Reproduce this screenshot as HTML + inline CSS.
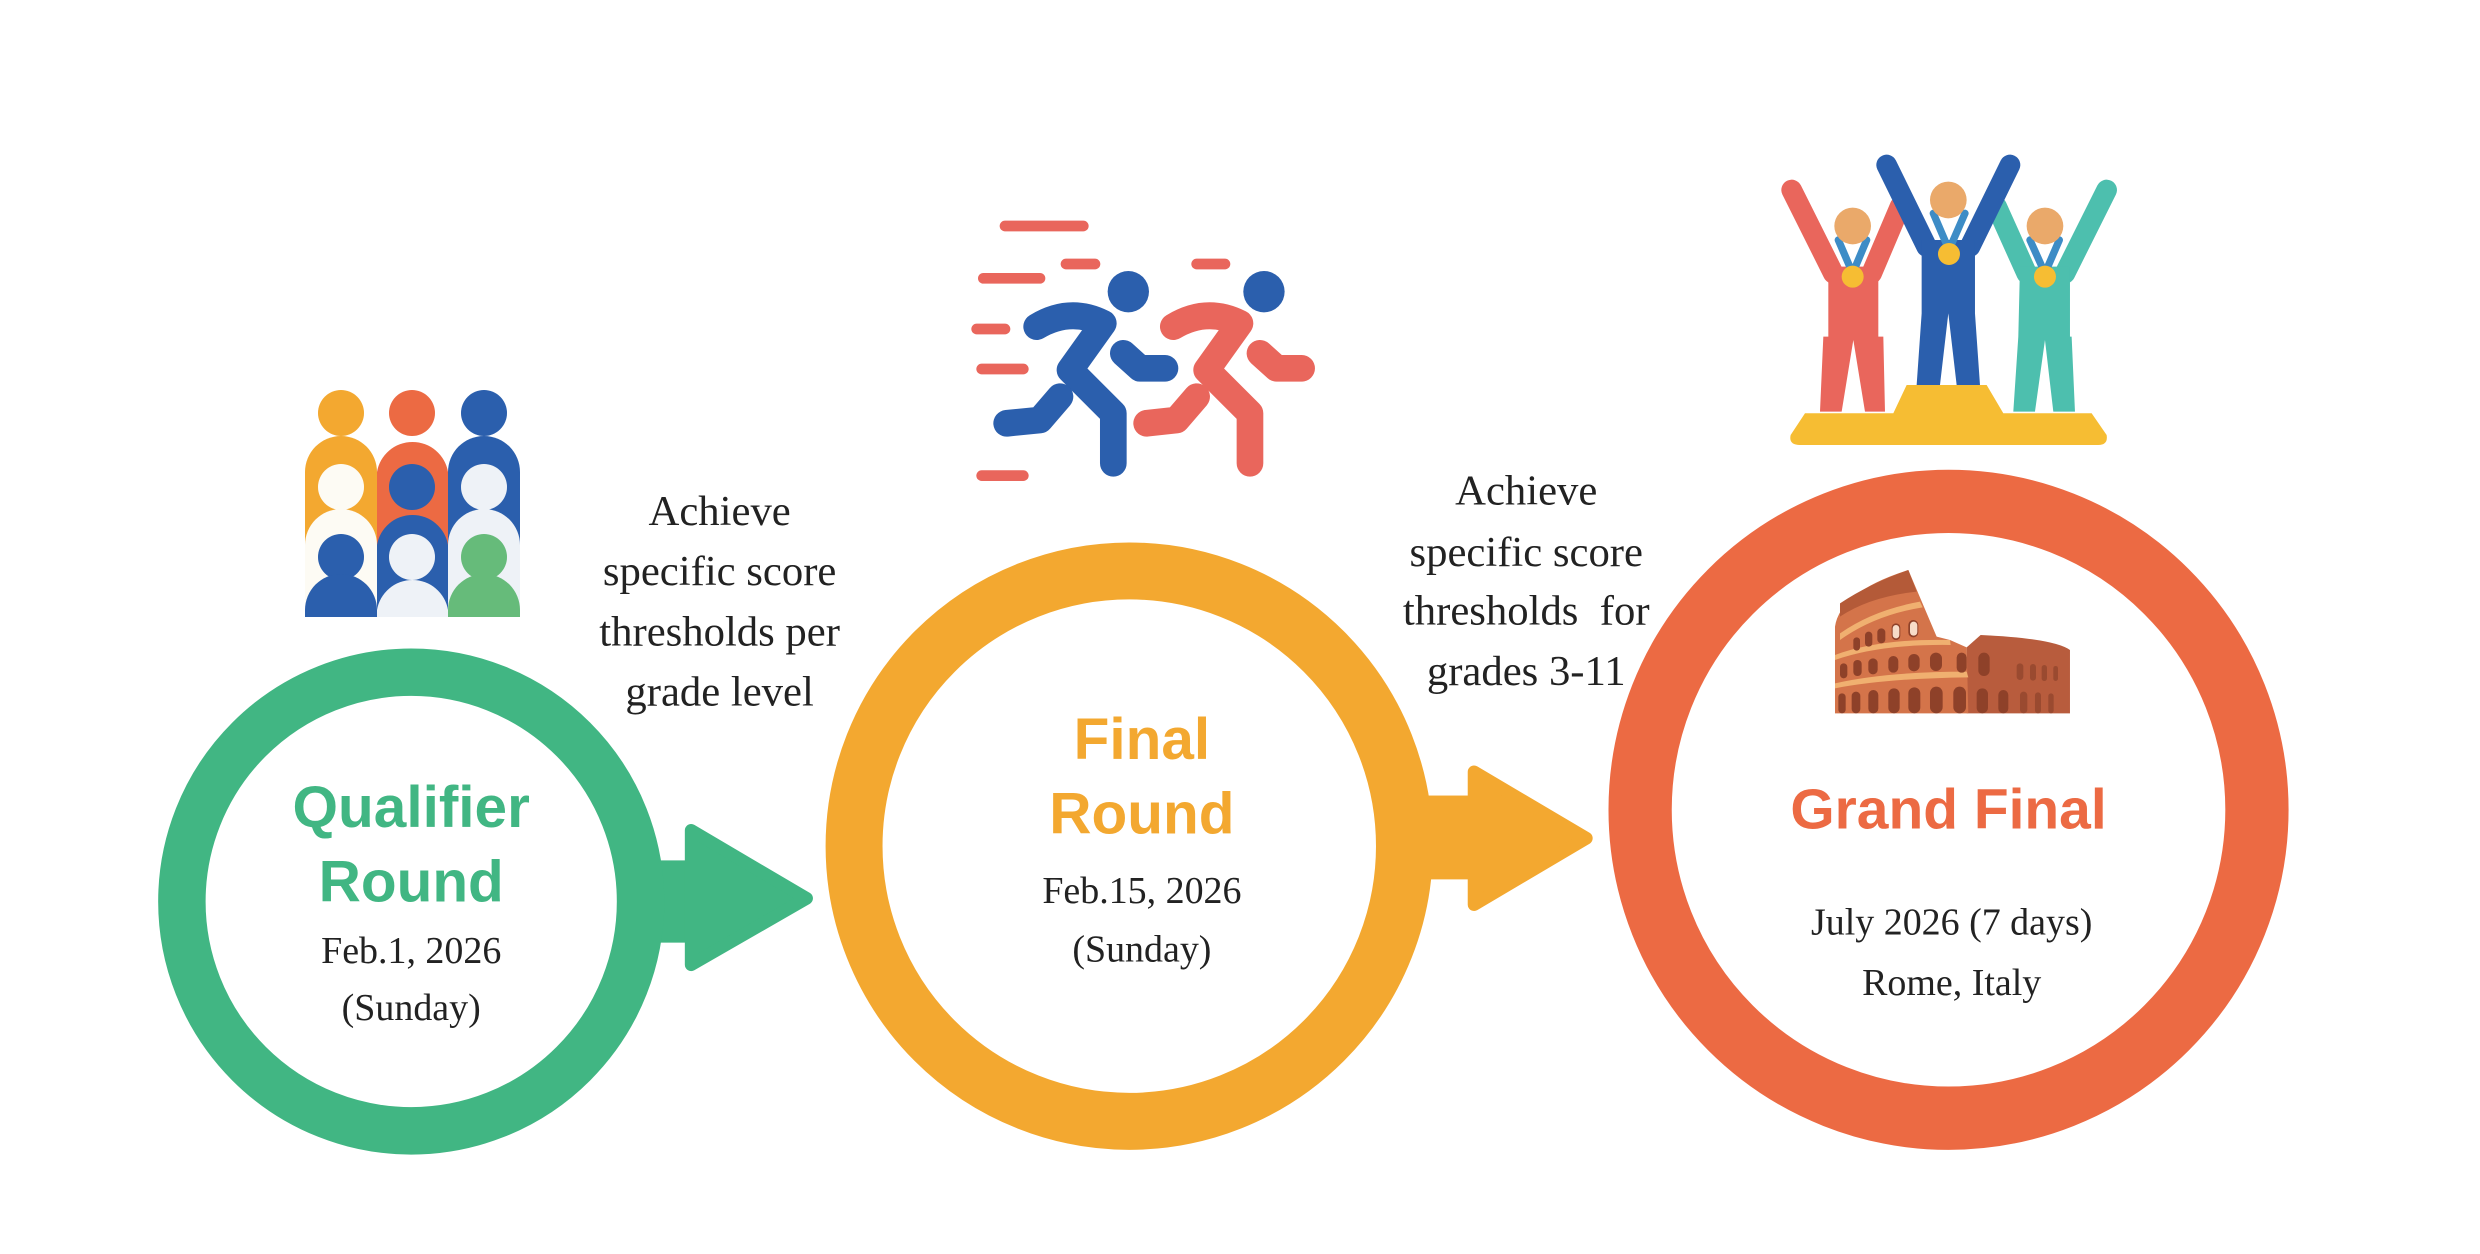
<!DOCTYPE html>
<html><head><meta charset="utf-8"><style>
html,body{margin:0;padding:0;background:#fff;}
svg{display:block;}
.t{font-family:"Liberation Sans",sans-serif;font-weight:bold;text-anchor:middle;}
.s{font-family:"Liberation Serif",serif;text-anchor:middle;fill:#222;}
</style></head><body>
<svg width="2480" height="1254" viewBox="0 0 2480 1254" xmlns="http://www.w3.org/2000/svg">
<rect width="2480" height="1254" fill="#fff"/>
<g transform="scale(1.5816)">
  <!-- arrows -->
  <rect x="410" y="544" width="35" height="52" fill="#41b683"/>
  <path d="M437,525 L510,568 L437,610 Z" fill="#41b683" stroke="#41b683" stroke-width="8" stroke-linejoin="round"/>
  <rect x="895" y="503" width="45" height="53" fill="#f3a830"/>
  <path d="M932,488 L1003,530 L932,572 Z" fill="#f3a830" stroke="#f3a830" stroke-width="8" stroke-linejoin="round"/>
  <!-- circles -->
  <circle cx="260" cy="570" r="145" fill="#fff" stroke="#41b683" stroke-width="30"/>
  <circle cx="714" cy="535" r="174" fill="#fff" stroke="#f3a830" stroke-width="36"/>
  <circle cx="1232" cy="512" r="195" fill="#fff" stroke="#ec6a43" stroke-width="40"/>
  <!-- texts -->
  <text class="t" x="260" y="523" font-size="37" fill="#41b683">Qualifier</text>
  <text class="t" x="260" y="570" font-size="37" fill="#41b683">Round</text>
  <text class="s" x="260" y="609" font-size="24">Feb.1, 2026</text>
  <text class="s" x="260" y="645" font-size="24">(Sunday)</text>
  <text class="t" x="722" y="480" font-size="37" fill="#f3a830">Final</text>
  <text class="t" x="722" y="527" font-size="37" fill="#f3a830">Round</text>
  <text class="s" x="722" y="571" font-size="24">Feb.15, 2026</text>
  <text class="s" x="722" y="608" font-size="24">(Sunday)</text>
  <text class="t" x="1232" y="524" font-size="36" fill="#ec6a43">Grand Final</text>
  <text class="s" x="1234" y="591" font-size="24">July 2026 (7 days)</text>
  <text class="s" x="1234" y="629" font-size="24">Rome, Italy</text>
  <text class="s" x="455" y="332" font-size="27">Achieve</text>
  <text class="s" x="455" y="370" font-size="27">specific score</text>
  <text class="s" x="455" y="408" font-size="27">thresholds per</text>
  <text class="s" x="455" y="446" font-size="27">grade level</text>
  <text class="s" x="965" y="319" font-size="27">Achieve</text>
  <text class="s" x="965" y="358" font-size="27">specific score</text>
  <text class="s" x="965" y="395" font-size="27" xml:space="preserve">thresholds  for</text>
  <text class="s" x="965" y="433" font-size="27">grades 3-11</text>
</g>
<!-- people grid (full coords) -->
<g>
  <circle cx="341" cy="413" r="23" fill="#f3a830"/><path d="M305,617 V472 a36,36 0 0 1 72,0 V617Z" fill="#f3a830"/>
  <circle cx="412" cy="413" r="23" fill="#ec6a43"/><path d="M377,617 V472 a36,36 0 0 1 71,0 V617Z" fill="#ec6a43"/>
  <circle cx="484" cy="413" r="23" fill="#2b5fad"/><path d="M448,617 V472 a36,36 0 0 1 72,0 V617Z" fill="#2b5fad"/>
  <circle cx="341" cy="487" r="23" fill="#fdfbf4"/><path d="M305,617 V545 a36,36 0 0 1 72,0 V617Z" fill="#fdfbf4"/>
  <circle cx="412" cy="487" r="23" fill="#2b5fad"/><path d="M377,617 V545 a36,36 0 0 1 71,0 V617Z" fill="#2b5fad"/>
  <circle cx="484" cy="487" r="23" fill="#eef2f7"/><path d="M448,617 V545 a36,36 0 0 1 72,0 V617Z" fill="#eef2f7"/>
  <circle cx="341" cy="557" r="23" fill="#2b5fad"/><path d="M305,617 V610 a36,36 0 0 1 72,0 V617Z" fill="#2b5fad"/>
  <circle cx="412" cy="557" r="23" fill="#eef2f7"/><path d="M377,617 V610 a36,36 0 0 1 71,0 V617Z" fill="#eef2f7"/>
  <circle cx="484" cy="557" r="23" fill="#66bb7a"/><path d="M448,617 V610 a36,36 0 0 1 72,0 V617Z" fill="#66bb7a"/>
</g>
<!-- runners -->
<g transform="translate(960,200) scale(0.3333)" stroke-linecap="round" stroke-linejoin="round" fill="none">
  <g stroke="#e9665c" stroke-width="32">
    <line x1="135" y1="78" x2="370" y2="78"/><line x1="318" y1="192" x2="405" y2="192"/>
    <line x1="70" y1="235" x2="240" y2="235"/><line x1="50" y1="387" x2="135" y2="387"/>
    <line x1="65" y1="507" x2="190" y2="507"/><line x1="65" y1="827" x2="190" y2="827"/>
    <line x1="710" y1="192" x2="795" y2="192"/>
  </g>
  <g stroke="#2b5fad" stroke-width="80">
    <path d="M230,380 Q330,320 430,370 L330,510 L460,640 L460,790"/>
    <path d="M490,460 L540,505 L615,505"/>
    <path d="M300,590 L240,660 L140,670"/>
  </g>
  <circle cx="505" cy="275" r="62" fill="#2b5fad"/>
  <g stroke="#e9665c" stroke-width="80">
    <path d="M640,380 Q740,320 840,370 L740,510 L870,640 L870,790"/>
    <path d="M900,460 L950,505 L1025,505"/>
    <path d="M710,590 L650,660 L560,670"/>
  </g>
  <circle cx="912" cy="275" r="62" fill="#2b5fad"/>
</g>
<!-- podium -->
<g transform="translate(1770,140) scale(0.3333)" stroke-linecap="round">
  <g stroke-width="62">
    <path d="M65,150 L190,400 M390,200 L305,400" stroke="#e9665c"/>
    <path d="M1010,150 L885,400 M680,200 L770,400" stroke="#4dbfae"/>
    <path d="M350,75 L470,320 M720,75 L600,320" stroke="#2b5fad"/>
  </g>
  <path d="M175,380 H325 V590 H340 L345,815 H285 L250,600 L215,815 H150 L160,590 H175Z" fill="#e9665c"/>
  <path d="M750,380 H900 V590 H905 L915,815 H850 L825,600 L795,815 H730 L745,590Z" fill="#4dbfae"/>
  <path d="M455,300 H615 V520 L630,735 H560 L535,520 L510,735 H440 L455,520Z" fill="#2b5fad"/>
  <g stroke="#3d8cc6" stroke-width="22" fill="none">
    <path d="M205,300 L248,400 L290,300"/><path d="M490,220 L537,330 L585,220"/><path d="M780,300 L825,400 L868,300"/>
  </g>
  <circle cx="248" cy="410" r="33" fill="#f6bd33"/><circle cx="537" cy="342" r="33" fill="#f6bd33"/><circle cx="825" cy="410" r="33" fill="#f6bd33"/>
  <circle cx="248" cy="258" r="55" fill="#eaa96a"/><circle cx="535" cy="180" r="55" fill="#eaa96a"/><circle cx="825" cy="258" r="55" fill="#eaa96a"/>
  <path d="M410,735 H650 L700,820 H965 L1010,885 Q1015,915 985,915 H90 Q55,915 62,885 L105,820 H370Z" fill="#f6bd33"/>
</g>
<!-- colosseum -->
<g transform="translate(1820,560) scale(0.3333)">
  <path d="M440,460 V262 L482,225 Q700,235 750,270 V460Z" fill="#b85c3d"/>
  <path d="M45,460 V200 Q60,95 265,30 L350,230 L390,240 L440,262 L445,460Z" fill="#d4744a"/>
  <path d="M60,130 Q150,70 265,30 L290,95 Q150,110 60,170Z" fill="#b45a38"/>
  <g fill="#f0b070">
    <path d="M60,220 Q160,150 300,125 L308,142 Q165,165 60,240Z"/>
    <path d="M45,285 Q180,235 390,240 L392,255 Q180,252 45,300Z"/>
    <path d="M45,370 Q200,335 440,335 L445,352 Q200,355 45,385Z"/>
  </g>
  <g fill="#8e4129">
    <rect x="100" y="232" width="20" height="40" rx="10"/><rect x="135" y="215" width="22" height="45" rx="11"/><rect x="172" y="205" width="24" height="45" rx="12"/><rect x="215" y="190" width="26" height="50" rx="13"/><rect x="265" y="180" width="30" height="52" rx="15"/>
    <rect x="60" y="310" width="22" height="45" rx="11"/><rect x="100" y="300" width="25" height="48" rx="12"/><rect x="145" y="295" width="28" height="48" rx="14"/><rect x="205" y="288" width="30" height="50" rx="15"/><rect x="265" y="282" width="34" height="52" rx="17"/><rect x="330" y="278" width="36" height="55" rx="18"/><rect x="410" y="278" width="30" height="60" rx="15"/><rect x="475" y="278" width="34" height="70" rx="17"/>
    <rect x="55" y="400" width="22" height="60" rx="11"/><rect x="95" y="395" width="26" height="65" rx="13"/><rect x="145" y="390" width="30" height="70" rx="15"/><rect x="205" y="385" width="34" height="75" rx="17"/><rect x="265" y="382" width="36" height="78" rx="18"/><rect x="330" y="380" width="38" height="80" rx="19"/><rect x="400" y="380" width="38" height="80" rx="19"/><rect x="470" y="385" width="34" height="75" rx="17"/><rect x="535" y="390" width="30" height="70" rx="15"/>
  </g>
  <g fill="#f7dcc8"><rect x="218" y="195" width="20" height="40" rx="10"/><rect x="270" y="185" width="22" height="42" rx="11"/></g>
  <g fill="#9a4a30"><rect x="590" y="310" width="20" height="50" rx="10"/><rect x="630" y="312" width="18" height="50" rx="9"/><rect x="665" y="315" width="16" height="48" rx="8"/><rect x="700" y="318" width="14" height="45" rx="7"/><rect x="600" y="395" width="22" height="65" rx="11"/><rect x="645" y="397" width="18" height="63" rx="9"/><rect x="685" y="400" width="16" height="60" rx="8"/></g>
</g>
</svg>
</body></html>
